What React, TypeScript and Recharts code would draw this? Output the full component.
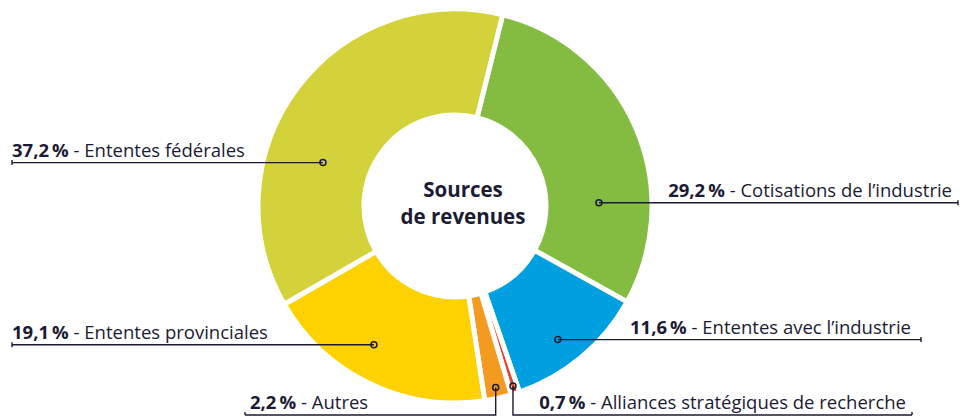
import React from 'react';
import { PieChart, Pie, Cell } from 'recharts';

const categories = [
  'Cotisations de l’industrie',
  'Ententes avec l’industrie',
  'Alliances stratégiques de recherche',
  'Autres',
  'Ententes provinciales',
  'Ententes fédérales',
];
const shares = [29.2, 11.6, 0.7, 2.2, 19.1, 37.2];
const colors = ['#84bc41', '#009fdf', '#e6412a', '#f39a21', '#fed100', '#d4d23a'];
const centerTitle = ['Sources', 'de revenues'];

const data = categories.map((name, i) => ({ name, value: shares[i] }));

const INK = '#1b1b33';
const FONT = '"Open Sans", Lato, sans-serif';

type Layout = {
  kind: 'left' | 'right' | 'downLeft' | 'downRight';
  angle?: number;
  radius: number;
  end: number;
  text: number;
  baseY?: number;
};

const labelLayout: Layout[] = [
  { kind: 'right', angle: 1.3, radius: 144, end: 958, text: 952 },
  { kind: 'right', angle: -52.4, radius: 168.6, end: 921, text: 911 },
  { kind: 'downRight', radius: 189, end: 912, text: 906, baseY: 415 },
  { kind: 'downLeft', radius: 186, end: 245, text: 250, baseY: 415 },
  { kind: 'left', angle: 239.7, radius: 160.7, end: 12, text: 12 },
  { kind: 'left', angle: 161.8, radius: 139, end: 12, text: 12 },
];

const fmt = (v: number) => v.toFixed(1).replace('.', ',') + '\u2009%';

const RAD = Math.PI / 180;
const LABEL_SIZE = 18.5;

const renderLabel = (props: any) => {
  const { cx, cy, midAngle, index } = props;
  const lay = labelLayout[index];
  const ang = lay.angle !== undefined ? lay.angle : midAngle;
  const dx = cx + lay.radius * Math.cos(ang * RAD);
  const dy = cy - lay.radius * Math.sin(ang * RAD);
  const label = (
    <>
      <tspan fontWeight={700}>{fmt(shares[index])}</tspan>
      <tspan> - {categories[index]}</tspan>
    </>
  );
  const parts: React.ReactNode[] = [];
  if (lay.kind === 'left' || lay.kind === 'right') {
    parts.push(
      <line key="l" x1={dx} y1={dy} x2={lay.end} y2={dy} stroke={INK} strokeWidth={1.4} />,
      <line key="t" x1={lay.end} y1={dy - 2.5} x2={lay.end} y2={dy + 2.5} stroke={INK} strokeWidth={1.4} />,
      <text
        key="x"
        x={lay.text}
        y={dy - 6}
        textAnchor={lay.kind === 'left' ? 'start' : 'end'}
        fontFamily={FONT}
        fontSize={LABEL_SIZE}
        fill={INK}
      >
        {label}
      </text>
    );
  } else {
    const by = lay.baseY as number;
    parts.push(
      <polyline
        key="l"
        points={`${dx},${dy} ${dx},${by} ${lay.end},${by}`}
        fill="none"
        stroke={INK}
        strokeWidth={1.4}
      />,
      <line key="t" x1={lay.end} y1={by - 3} x2={lay.end} y2={by} stroke={INK} strokeWidth={1.4} />,
      <text
        key="x"
        x={lay.text}
        y={by - 6}
        textAnchor={lay.kind === 'downLeft' ? 'start' : 'end'}
        fontFamily={FONT}
        fontSize={LABEL_SIZE}
        fill={INK}
      >
        {label}
      </text>
    );
  }
  parts.push(<circle key="c" cx={dx} cy={dy} r={3} fill="none" stroke={INK} strokeWidth={1.5} />);
  if (index === 0) {
    parts.push(
      <text key="ct" x={cx + 8} y={cy - 9} textAnchor="middle" fontFamily={FONT} fontWeight={700} fontSize={20.5} fill={INK}>
        {centerTitle[0]}
      </text>,
      <text key="ct2" x={cx + 8} y={cy + 18} textAnchor="middle" fontFamily={FONT} fontWeight={700} fontSize={20.5} fill={INK}>
        {centerTitle[1]}
      </text>
    );
  }
  return <g>{parts}</g>;
};

export default function App() {
  return (
    <div style={{ position: 'absolute', left: 0, top: 0, width: 960, height: 418, background: '#fff' }}>
      <PieChart width={960} height={418} margin={{ top: 0, right: 0, bottom: 0, left: 0 }}>
        <Pie
          data={data}
          dataKey="value"
          nameKey="name"
          cx={455}
          cy={206}
          innerRadius={91}
          outerRadius={197}
          startAngle={76}
          endAngle={-284}
          stroke="#ffffff"
          strokeWidth={5}
          label={renderLabel}
          labelLine={false}
          isAnimationActive={false}
        >
          {data.map((d, i) => (
            <Cell key={d.name} fill={colors[i]} />
          ))}
        </Pie>
      </PieChart>
    </div>
  );
}
